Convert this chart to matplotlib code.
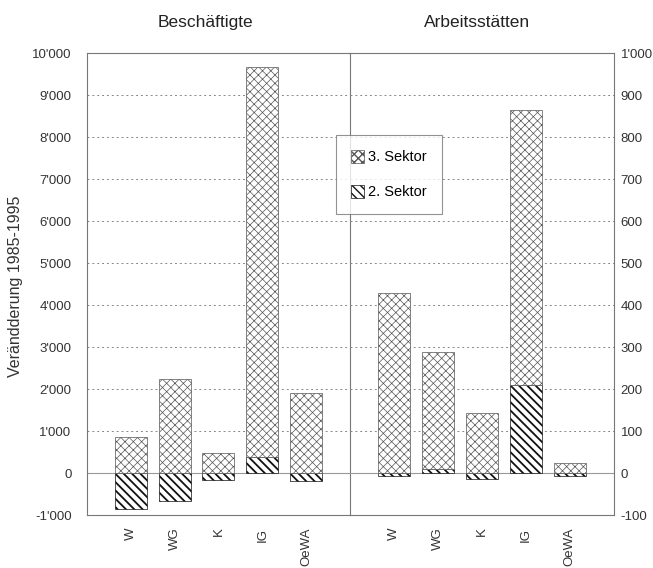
import numpy as np
import matplotlib
matplotlib.use("Agg")
import matplotlib.pyplot as plt
from matplotlib.ticker import FuncFormatter
from matplotlib.patches import Patch

plt.rcParams['font.family'] = ['Liberation Sans', 'DejaVu Sans']

cats = ['W', 'WG', 'K', 'IG', 'OeWA']

# Beschaeftigte (left axis)
besch_s2 = [-860, -670, -165, 390, -185]
besch_s3 = [870, 2240, 477, 9270, 1900]

# Arbeitsstaetten (right axis)
arb_s2 = [-8, 10, -15, 209, -6]
arb_s3 = [428, 279, 143, 655, 23]

H3 = 'xxxx'
H2 = '\\\\\\\\'
C3 = '#555555'
C2 = '#111111'


def fmt(v, pos):
    return '{:,.0f}'.format(v).replace(',', "'")


def set_hlw(artists, lw):
    for a in artists:
        if hasattr(a, 'set_hatch_linewidth'):
            a.set_hatch_linewidth(lw)


fig = plt.figure(figsize=(6.53, 5.68), dpi=100)
axl = fig.add_axes([0.133, 0.0933, 0.403, 0.813])
axr = fig.add_axes([0.536, 0.0933, 0.404, 0.813])
axr.patch.set_visible(False)

x = np.arange(1, len(cats) + 1)
w = 0.73
gray = '#777777'


def draw(ax, s2, s3, ylim, step):
    s2 = np.array(s2)
    s3 = np.array(s3)
    base3 = np.where(s2 > 0, s2, 0)
    ax.set_xlim(0, 6)
    ax.set_ylim(*ylim)
    for y in np.arange(ylim[0] + step, ylim[1], step):
        if abs(y) < 1e-9:
            ax.axhline(0, color='#999999', lw=0.8, zorder=1)
        else:
            ax.axhline(y, color='#888888', lw=0.7, ls=(0, (2, 3)), zorder=1)
    with plt.rc_context({'hatch.linewidth': 1.3}):
        b2 = ax.bar(x, s2, w, color='white', edgecolor=C2, hatch=H2, lw=0.5, zorder=3)
    set_hlw(b2, 1.3)
    with plt.rc_context({'hatch.linewidth': 0.5}):
        b3 = ax.bar(x, s3, w, bottom=base3, color='white', edgecolor=C3, hatch=H3, lw=0.5, zorder=3)
    set_hlw(b3, 0.5)
    ax.set_xticks(x)
    ax.set_xticklabels(cats, rotation=90, color='#333333')
    ax.set_yticks(np.arange(ylim[0], ylim[1] + step / 2, step))
    ax.yaxis.set_major_formatter(FuncFormatter(fmt))
    ax.tick_params(axis='both', length=0, labelsize=9.5, labelcolor='#333333')
    ax.tick_params(axis='x', pad=9, labelsize=9.5)
    for sp in ax.spines.values():
        sp.set_color(gray)
        sp.set_linewidth(0.8)


draw(axl, besch_s2, besch_s3, (-1000, 10000), 1000)
axl.tick_params(axis='y', pad=11)

draw(axr, arb_s2, arb_s3, (-100, 1000), 100)
axr.yaxis.tick_right()
axr.tick_params(axis='y', pad=5)
axr.spines['left'].set_visible(False)

fig.text(0.315, 0.961, 'Beschäftigte', ha='center', va='center', fontsize=12.5, color='#222222')
fig.text(0.731, 0.961, 'Arbeitsstätten', ha='center', va='center', fontsize=12.5, color='#222222')
fig.text(0.023, 0.496, 'Verändderung 1985-1995', rotation=90, ha='center', va='center',
         fontsize=11.5, color='#333333')

with plt.rc_context({'hatch.linewidth': 0.5}):
    p3 = Patch(facecolor='white', edgecolor=C3, hatch=H3, lw=0.5)
with plt.rc_context({'hatch.linewidth': 1.3}):
    p2 = Patch(facecolor='white', edgecolor=C2, hatch=H2, lw=0.5)
set_hlw([p3], 0.5)
set_hlw([p2], 1.3)
leg = fig.legend([p3, p2], ['3. Sektor', '2. Sektor'], loc='upper left',
                 bbox_to_anchor=(0.515, 0.762), fontsize=10.5, frameon=True,
                 fancybox=False, handlelength=0.9, handleheight=1.0,
                 handletextpad=0.3, labelspacing=1.4, borderpad=1.0,
                 borderaxespad=0)
leg.get_frame().set_edgecolor(gray)
leg.get_frame().set_linewidth(0.8)
leg.set_zorder(10)

fig.savefig('out.png', dpi=100)
